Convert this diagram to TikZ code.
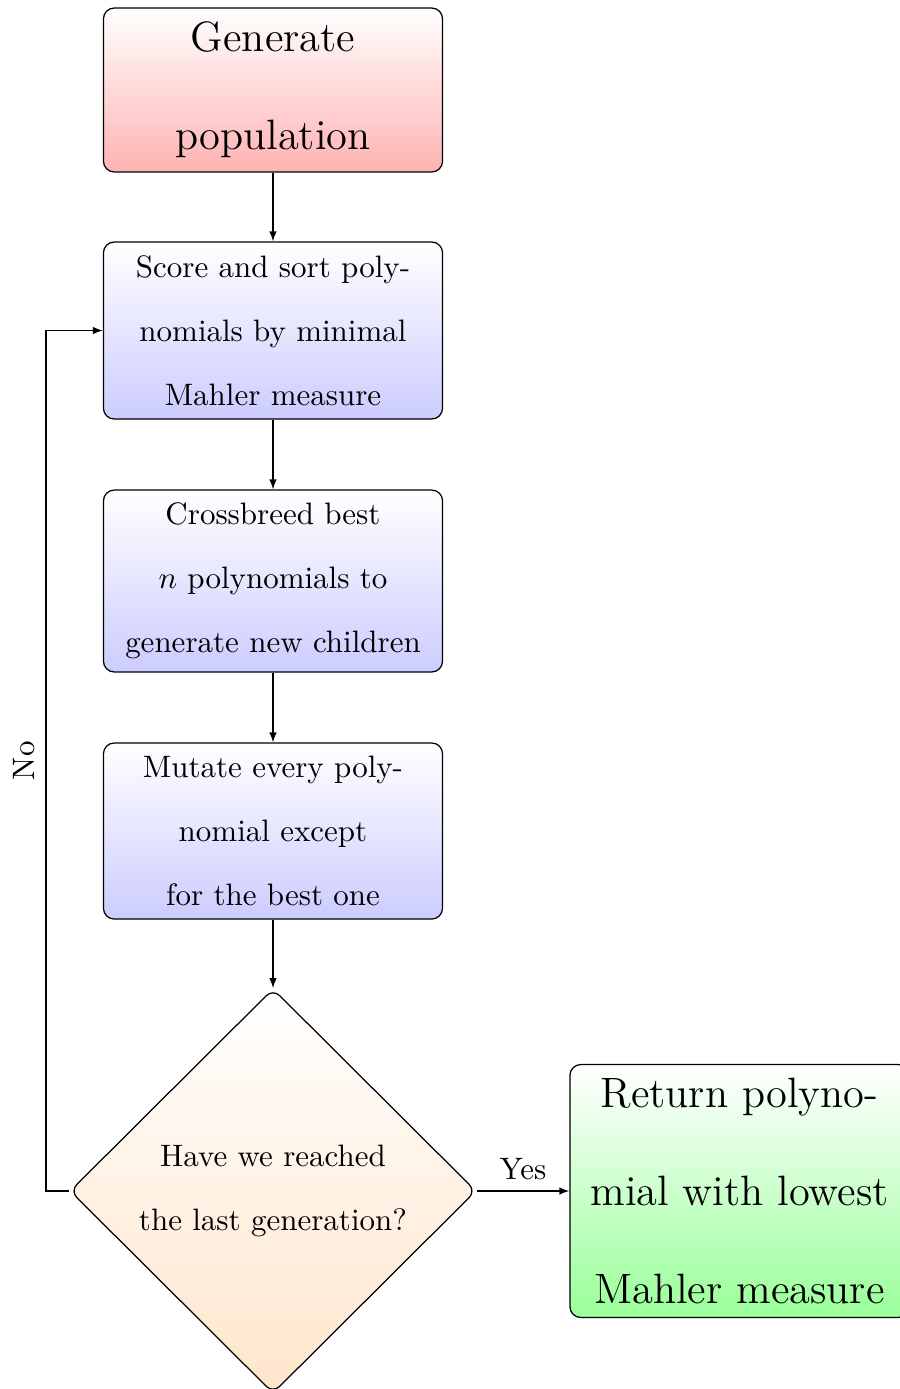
\documentclass[tikz,border=0pt]{standalone}
\usetikzlibrary{shapes.geometric,arrows.meta}
\begin{document}
\begin{tikzpicture}[x=0.3226pt,y=-0.3226pt,
  every node/.style={font=\fontsize{10}{20.65}\selectfont},
  box/.style={draw, line width=0.4pt, rounded corners=3.5pt, minimum width=109.4pt,
    align=center, inner sep=0pt, top color=white},
  bigtext/.style={font=\fontsize{13.7}{31.6}\selectfont},
  decision/.style={diamond, draw, line width=0.4pt, rounded corners=3pt, aspect=1,
    minimum width=131pt, minimum height=130.5pt, inner sep=0pt, align=center,
    top color=white, bottom color=orange!20},
  arr/.style={-{Latex[length=3.2pt,width=2.4pt]}, line width=0.4pt}
]
\useasboundingbox (0,0) rectangle (899,1389);

\node[box, bigtext, bottom color=red!30, minimum height=52.9pt] (gen) at (273,90)
  {Generate\\population};
\node[box, bottom color=blue!20, minimum height=57.1pt] (score) at (273,330.5)
  {Score and sort poly-\\nomials by minimal\\Mahler measure};
\node[box, bottom color=blue!20, minimum height=58.7pt] (cross) at (273,581)
  {Crossbreed best\\$n$ polynomials to\\generate new children};
\node[box, bottom color=blue!20, minimum height=56.8pt] (mut) at (273,831)
  {Mutate every poly-\\nomial except\\for the best one};
\node[decision] (dec) at (273,1191)
  {Have we reached\\the last generation?};
\node[box, bigtext, bottom color=green!40, minimum height=81.6pt] (ret) at (739.5,1191)
  {Return polyno-\\mial with lowest\\Mahler measure};

\coordinate (fb) at (46,1191);

\draw[arr] (gen) -- (score);
\draw[arr] (score) -- (cross);
\draw[arr] (cross) -- (mut);
\draw[arr] (mut) -- (dec);
\draw[arr] (dec.west) -- (fb) |- node[pos=0.25, rotate=90, above] (no) {No} (score.west);
\draw[arr] (dec.east) -- node[above] (yes) {Yes} (ret.west);
\end{tikzpicture}
\end{document}
